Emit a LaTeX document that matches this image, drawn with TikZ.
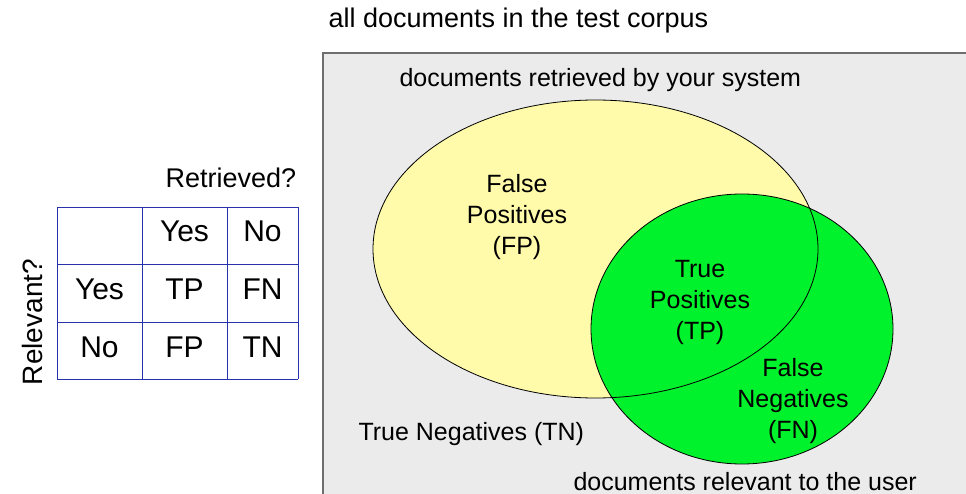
\documentclass[tikz,border=0pt]{standalone}
\usepackage{fontspec}
\setmainfont{Liberation Sans}
\definecolor{corpusgray}{RGB}{235,235,235}
\definecolor{corpusline}{RGB}{110,110,110}
\definecolor{retyellow}{RGB}{255,251,170}
\definecolor{relgreen}{RGB}{0,242,44}
\definecolor{tableblue}{RGB}{40,50,170}
\begin{document}
\begin{tikzpicture}[x=1pt,y=-1pt,
   venn/.style={font=\fontsize{25}{31}\selectfont},
   title/.style={font=\fontsize{27}{33}\selectfont},
   cell/.style={font=\fontsize{30}{36}\selectfont,anchor=base},
   tableline/.style={tableblue,line width=0.9pt}]
   \useasboundingbox (0,0) rectangle (966,494);
   % corpus box
   \fill[corpusgray] (323,53) rectangle (966,494);
   \draw[corpusline,line width=1.5pt] (323,494) -- (323,53) -- (966,53);
   % retrieved / relevant sets
   \fill[retyellow] (595.5,249) ellipse [x radius=222.5, y radius=149];
   \filldraw[fill=relgreen,draw=black,line width=0.8pt] (742,329) ellipse [x radius=151, y radius=135];
   \draw[line width=0.8pt] (595.5,249) ellipse [x radius=222.5, y radius=149];
   \node[title,anchor=base west] (corpus) at (325,28) {all documents in the test corpus};
   \node[venn,anchor=base west] (retrieved) at (396,87) {documents retrieved by your system};
   \node[venn,anchor=base west] (relevant) at (570,490) {documents relevant to the user};
   \node[venn,align=center] (fp) at (517,217.5) {False\\Positives\\(FP)};
   \node[venn,align=center] (tp) at (700,302) {True\\Positives\\(TP)};
   \node[venn,align=center] (fn) at (793,401) {False\\Negatives\\(FN)};
   \node[venn,anchor=base west] (tn) at (355,440) {True Negatives (TN)};
   % contingency table
   \foreach \y in {207,264,322,379}
     \draw[tableline] (57,\y) -- (298,\y);
   \foreach \x in {57,142,227,298}
     \draw[tableline] (\x,207) -- (\x,379);
   \node[title,anchor=base west] (retq) at (162,188) {Retrieved?};
   \node[cell,font=\fontsize{28}{34}\selectfont,rotate=90] (relq) at (42,322) {Relevant?};
   \node[cell] (hyes) at (184.5,242) {Yes};
   \node[cell] (hno) at (262.5,242) {No};
   \node[cell] (ryes) at (99.5,299) {Yes};
   \node[cell] (tpcell) at (184.5,299) {TP};
   \node[cell] (fncell) at (262.5,299) {FN};
   \node[cell] (rno) at (99.5,357) {No};
   \node[cell] (fpcell) at (184.5,357) {FP};
   \node[cell] (tncell) at (262.5,357) {TN};
\end{tikzpicture}
\end{document}
